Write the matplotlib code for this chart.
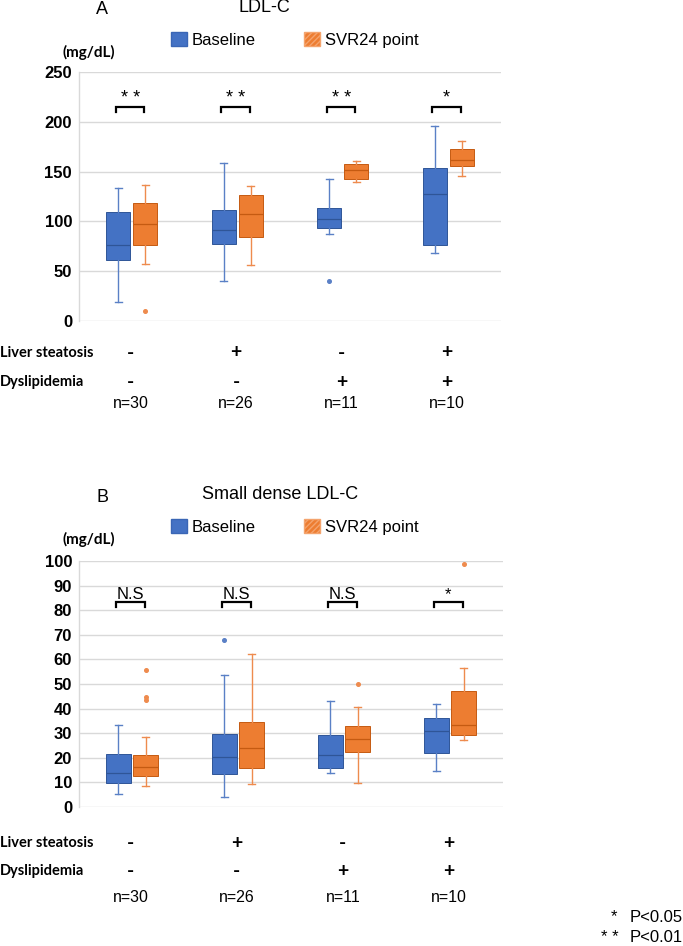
import matplotlib
matplotlib.use("Agg")
import matplotlib.pyplot as plt
from matplotlib import font_manager
from matplotlib.patches import Patch
from matplotlib.transforms import blended_transform_factory

# fonts: narrow Arial-like if present
names = {f.name for f in font_manager.fontManager.ttflist}
NARROW = "Liberation Sans Narrow" if "Liberation Sans Narrow" in names else "Liberation Sans"
CAL = "Lato"

# data
groups = ["g1", "g2", "g3", "g4"]
liver = ["-", "+", "-", "+"]
dyslip = ["-", "-", "+", "+"]
n_labels = ["n=30", "n=26", "n=11", "n=10"]

# LDL-C (mg/dL): whislo, q1, med, q3, whishi
ldl_base_lo = [19, 40, 87, 68]
ldl_base_q1 = [61, 77, 93, 76]
ldl_base_med = [76, 91, 102, 128]
ldl_base_q3 = [109, 111, 113, 154]
ldl_base_hi = [134, 159, 143, 196]
ldl_base_out = [[], [], [40], []]

ldl_svr_lo = [57, 56, 140, 146]
ldl_svr_q1 = [76, 84, 143, 156]
ldl_svr_med = [97, 107, 152, 162]
ldl_svr_q3 = [118, 127, 158, 173]
ldl_svr_hi = [137, 136, 161, 181]
ldl_svr_out = [[10], [], [], []]
ldl_sig = ["* *", "* *", "* *", "*"]

# small dense LDL-C (mg/dL)
sd_base_lo = [5.3, 3.9, 14.0, 14.7]
sd_base_q1 = [9.6, 13.6, 15.9, 22.1]
sd_base_med = [13.9, 20.5, 21.1, 31.0]
sd_base_q3 = [21.7, 29.6, 29.3, 36.3]
sd_base_hi = [33.5, 53.7, 43.2, 41.8]
sd_base_out = [[], [68], [], []]

sd_svr_lo = [8.5, 9.3, 9.6, 27.3]
sd_svr_q1 = [12.6, 15.8, 22.3, 29.4]
sd_svr_med = [16.1, 23.8, 27.5, 33.5]
sd_svr_q3 = [21.3, 34.5, 32.8, 47.2]
sd_svr_hi = [28.6, 62.1, 40.5, 56.4]
sd_svr_out = [[55.7, 44.9, 43.3], [], [50.1], [98.7]]
sd_sig = ["N.S", "N.S", "N.S", "*"]

BLUE = "#4472C4"
BLUE_D = "#2F5597"
BLUE_W = "#5A80C6"
ORANGE = "#ED7D31"
ORANGE_D = "#C55A11"
ORANGE_W = "#EE8B4E"
GRID = "#D9D9D9"

W, H = 683, 946
fig = plt.figure(figsize=(W / 100, H / 100), dpi=100)


def fx(px):
    return px / W


def fy(py):
    return 1 - py / H


def stats(lo, q1, med, q3, hi, out):
    return [dict(whislo=a, q1=b, med=c, q3=d, whishi=e, fliers=f)
            for a, b, c, d, e, f in zip(lo, q1, med, q3, hi, out)]


def draw_boxes(ax, st, pos, face, dark, wcol):
    ax.bxp(st, positions=pos, widths=0.23, patch_artist=True, showfliers=True,
           boxprops=dict(facecolor=face, edgecolor=dark, linewidth=0.7),
           medianprops=dict(color=dark, linewidth=0.9),
           whiskerprops=dict(color=wcol, linewidth=1.0),
           capprops=dict(color=wcol, linewidth=1.0),
           capwidths=0.07,
           flierprops=dict(marker="o", markersize=2.6, markerfacecolor=wcol,
                           markeredgecolor=wcol))


def panel(rect, base, svr, ymax, step, sig, br_y, br_h, sig_dy, sig_fs, letter, title, title_xy,
          leg_y, unit_y, rows_y):
    ax = fig.add_axes(rect)
    xs = list(range(len(groups)))
    draw_boxes(ax, base, [x - 0.128 for x in xs], BLUE, BLUE_D, BLUE_W)
    draw_boxes(ax, svr, [x + 0.128 for x in xs], ORANGE, ORANGE_D, ORANGE_W)
    ax.set_xlim(-0.5, 3.5)
    ax.set_ylim(0, ymax)
    ticks = list(range(0, ymax + 1, step))
    ax.set_yticks(ticks, labels=[str(t) for t in ticks], fontfamily=NARROW,
                  fontweight="bold", fontsize=12)
    ax.set_xticks([])
    ax.tick_params(axis="y", length=0, pad=5)
    for t in ticks:
        ax.axhline(t, color=GRID, lw=1, zorder=0)
    for s in ["top", "right", "bottom"]:
        ax.spines[s].set_visible(False)
    ax.spines["left"].set_color(GRID)
    ax.spines["left"].set_linewidth(1)

    # significance brackets
    for x, s in zip(xs, sig):
        ax.plot([x - 0.15, x - 0.15, x + 0.12, x + 0.12],
                [br_y - br_h, br_y, br_y, br_y - br_h], color="black", lw=1.6,
                solid_joinstyle="miter")
        ax.text(x - 0.015, br_y + sig_dy, s, ha="center", va="bottom",
                fontsize=sig_fs, family=NARROW)

    fig.text(fx(letter[0]), fy(letter[1]), letter[2], fontsize=13, family=NARROW,
             ha="center", va="center")
    fig.text(fx(title_xy[0]), fy(title_xy[1]), title, fontsize=13, family=NARROW,
             ha="center", va="center")
    fig.text(fx(89), fy(unit_y), "(mg/dL)", fontsize=11, family=CAL,
             fontweight="bold", ha="center", va="center")

    handles = [Patch(facecolor=BLUE, edgecolor="#3A66B5", label="Baseline"),
               Patch(facecolor=ORANGE, edgecolor="#F4A46E", hatch="//////",
                     label="SVR24 point")]
    fig.legend(handles=handles, loc="center left", bbox_to_anchor=(fx(171), fy(leg_y)),
               bbox_transform=fig.transFigure, ncol=2, frameon=False,
               prop=dict(family=NARROW, size=12), handlelength=0.95, handleheight=0.95,
               handletextpad=0.3, columnspacing=2.9, borderpad=0, borderaxespad=0)

    tr = blended_transform_factory(ax.transData, fig.transFigure)
    fig.text(0, fy(rows_y[0]), "Liver steatosis", fontsize=10.5, family=CAL,
             fontweight="bold", ha="left", va="center")
    fig.text(0, fy(rows_y[1]), "Dyslipidemia", fontsize=10.5, family=CAL,
             fontweight="bold", ha="left", va="center")
    for x, a, b, n in zip(xs, liver, dyslip, n_labels):
        ax.text(x - 0.01, fy(rows_y[0]), a, transform=tr, fontsize=14, family=CAL,
                fontweight="bold", ha="center", va="center")
        ax.text(x - 0.01, fy(rows_y[1]), b, transform=tr, fontsize=14, family=CAL,
                fontweight="bold", ha="center", va="center")
        ax.text(x - 0.01, fy(rows_y[2]), n, transform=tr, fontsize=11.5, family=NARROW,
                ha="center", va="center")
    return ax


panel([fx(79), fy(321), fx(501 - 79), (321 - 72) / H],
      stats(ldl_base_lo, ldl_base_q1, ldl_base_med, ldl_base_q3, ldl_base_hi, ldl_base_out),
      stats(ldl_svr_lo, ldl_svr_q1, ldl_svr_med, ldl_svr_q3, ldl_svr_hi, ldl_svr_out),
      250, 50, ldl_sig, 215, 5, 0, 13, (102, 10, "A"), "LDL-C", (264, 8), 40, 52,
      (353, 382, 404))

panel([fx(79), fy(807), fx(503 - 79), (807 - 561) / H],
      stats(sd_base_lo, sd_base_q1, sd_base_med, sd_base_q3, sd_base_hi, sd_base_out),
      stats(sd_svr_lo, sd_svr_q1, sd_svr_med, sd_svr_q3, sd_svr_hi, sd_svr_out),
      100, 10, sd_sig, 83.3, 1.8, 0.1, 12, (103, 497, "B"), "Small dense LDL-C", (280, 494),
      527, 539, (843, 871, 897))

fig.text(fx(614), fy(917), "*", fontsize=12, family=NARROW, ha="center", va="center")
fig.text(fx(630), fy(917), "P<0.05", fontsize=12, family=NARROW, ha="left", va="center")
fig.text(fx(610), fy(937), "* *", fontsize=12, family=NARROW, ha="center", va="center")
fig.text(fx(630), fy(937), "P<0.01", fontsize=12, family=NARROW, ha="left", va="center")

fig.savefig("out.png", dpi=100)
